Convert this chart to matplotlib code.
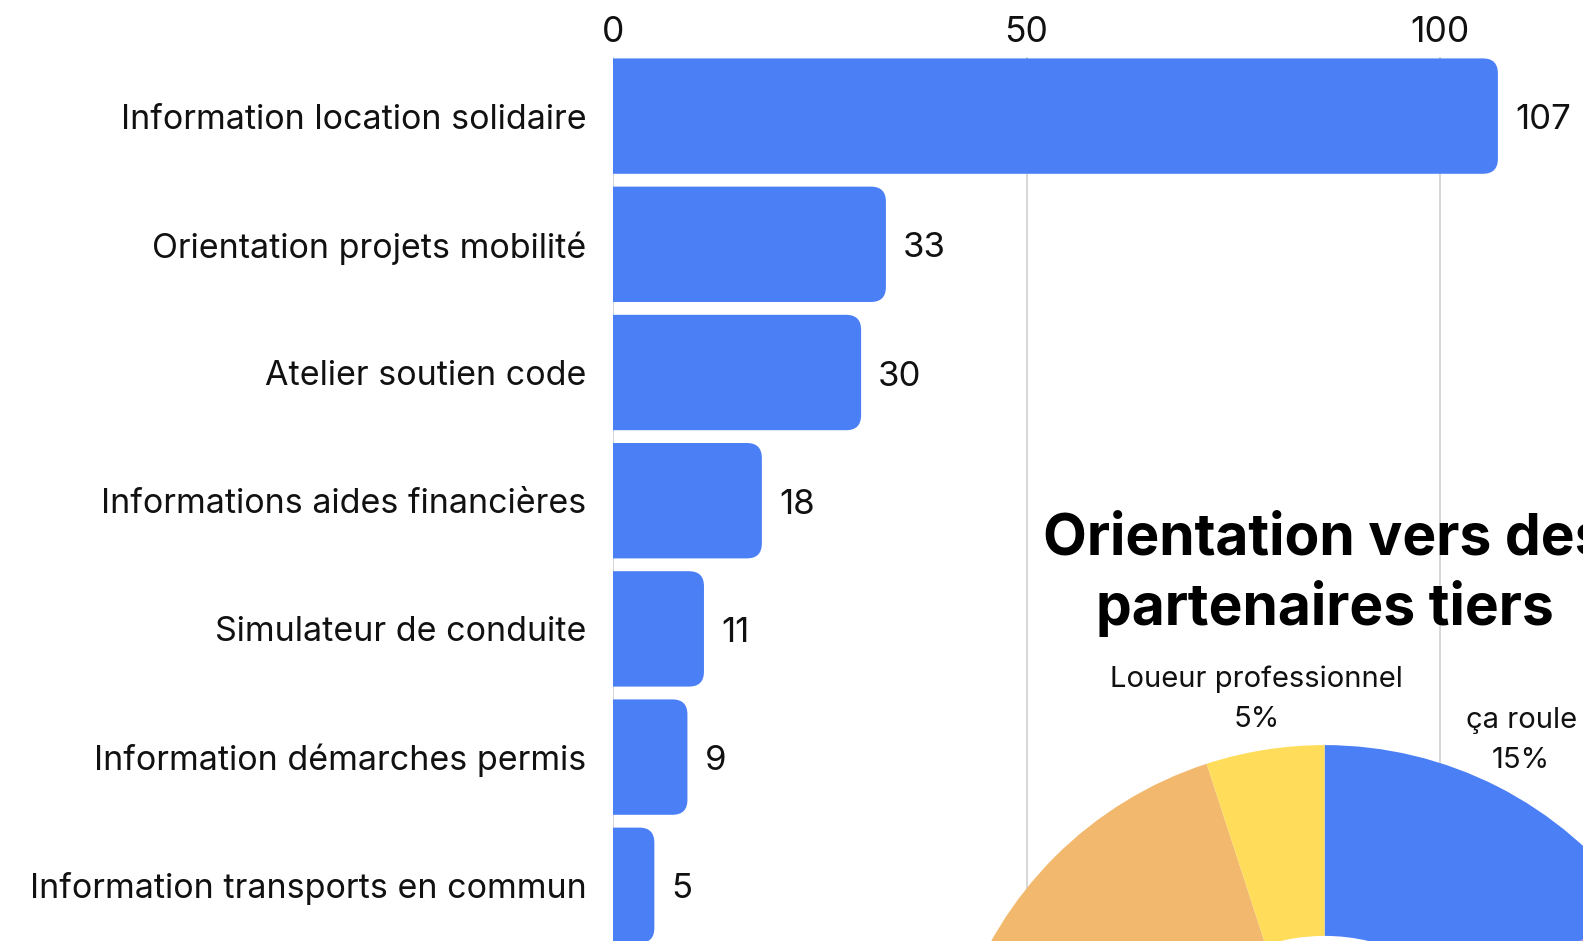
#!/usr/bin/env python3
"""Horizontal bar chart of actions with a partially visible donut of partner referrals."""

import matplotlib
matplotlib.use("Agg")
import matplotlib.pyplot as plt
from matplotlib.patches import FancyBboxPatch
import numpy as np

plt.rcParams["font.family"] = ["Inter", "DejaVu Sans"]

# data
actions = [
    "Information location solidaire",
    "Orientation projets mobilité",
    "Atelier soutien code",
    "Informations aides financières",
    "Simulateur de conduite",
    "Information démarches permis",
    "Information transports en commun",
]
action_counts = [107, 33, 30, 18, 11, 9, 5]
x_ticks = [0, 50, 100]

partners = ["ça roule", "Wimoov", "Pôle emploi", "Garage solidaire", "Loueur professionnel"]
partner_share = [15, 28, 22, 30, 5]
partner_colors = ["#4b7ff5", "#a77bdc", "#6cc3a0", "#f2b86e", "#ffdc5a"]

BAR_COLOR = "#4b7ff5"
GRID_COLOR = "#d6d6d6"
TEXT_COLOR = "#111111"

W, H = 1583, 941
fig = plt.figure(figsize=(W / 100, H / 100), dpi=100)

# bar axes: x=0 at 613px, 8.27 px per unit, bars pitch 128.2px starting at 116px
x0_px, px_unit = 613.0, 8.27
top_px = 57.0
ax = fig.add_axes([x0_px / W, 0, 1 - x0_px / W, 1 - top_px / H])
xmax = (W - x0_px) / px_unit
pitch, first_center = 128.2, 116.1
ax.set_xlim(0, xmax)
ax.set_ylim((H - first_center) / pitch, (top_px - first_center) / pitch)

ypos = np.arange(len(actions))
bars = ax.barh(ypos, action_counts, height=0.9, color=BAR_COLOR)

# rounded right corners: redraw each bar as a rounded box clipped at x=0
ax_w_px = W - x0_px
ax_h_px = H - top_px
px_per_x = ax_w_px / xmax
px_per_y = ax_h_px / abs(ax.get_ylim()[0] - ax.get_ylim()[1])
radius_px = 15
rx = radius_px / px_per_x
ry = radius_px / px_per_y
for bar in bars:
    x, y = bar.get_x(), bar.get_y()
    w, h = bar.get_width(), bar.get_height()
    bar.set_visible(False)
    patch = FancyBboxPatch(
        (x - 5, y), w + 5, h,
        boxstyle=f"round,pad=0,rounding_size={rx}",
        mutation_aspect=ry / rx,
        facecolor=BAR_COLOR, edgecolor="none", zorder=3,
    )
    ax.add_patch(patch)
    ax.text(w + 17 / px_per_x, y + h / 2 + 4 / px_per_y, f"{w:.0f}", ha="left", va="center",
            fontsize=25, color=TEXT_COLOR, zorder=4)

ax.set_yticks(ypos, actions)
ax.set_xticks(x_ticks)
ax.xaxis.tick_top()
ax.tick_params(axis="y", length=0, pad=19, labelsize=24.5, colors=TEXT_COLOR)
ax.tick_params(axis="x", length=0, pad=6, labelsize=25.5, colors=TEXT_COLOR)
for spine in ax.spines.values():
    spine.set_visible(False)
ax.xaxis.grid(True, color=GRID_COLOR, linewidth=1.4)
ax.set_axisbelow(True)

# donut: center (1324.6, 1126.7) px from top-left, radius 381.6 px
cx, cy, r = 1324.6, 1126.7, 381.6
pax = fig.add_axes([(cx - r) / W, (H - cy - r) / H, 2 * r / W, 2 * r / H])
wedges, _ = pax.pie(
    partner_share,
    colors=partner_colors,
    startangle=90,
    counterclock=False,
    radius=1,
    wedgeprops=dict(width=0.5, edgecolor="none"),
)
pax.set_xlim(-1, 1)
pax.set_ylim(-1, 1)
pax.axis("off")
for wedge, name, share in zip(wedges, partners, partner_share):
    ang = np.deg2rad((wedge.theta1 + wedge.theta2) / 2)
    lx, ly = 1.135 * np.cos(ang), 1.135 * np.sin(ang)
    # labels of slices that fall outside the canvas are not drawn
    px_x = cx + lx * r
    px_y = cy - ly * r
    if not (0 <= px_x <= W and 0 <= px_y <= H):
        continue
    pax.text(lx, ly, f"{name}\n{share}%",
             ha="center", va="center", fontsize=21, linespacing=1.62,
             color=TEXT_COLOR, clip_on=False)

fig.text(cx / W, 1 - 575 / H, "Orientation vers des\npartenaires tiers",
         ha="center", va="center", fontsize=41, fontweight="bold",
         linespacing=1.3, color="#000000")

fig.savefig("out.png", dpi=100)
